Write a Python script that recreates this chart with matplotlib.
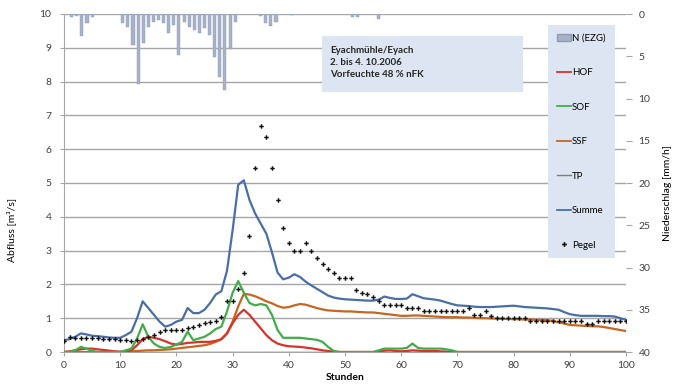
import matplotlib
matplotlib.use("Agg")
import matplotlib.pyplot as plt
from matplotlib.lines import Line2D
from matplotlib.patches import Patch, Rectangle

plt.rcParams['font.family'] = ['Lato', 'DejaVu Sans']

# ---------------- data ----------------
hours = list(range(0, 101))

summe = [0.35, 0.38, 0.45, 0.55, 0.52, 0.48, 0.47, 0.45, 0.43, 0.42,
         0.42, 0.50, 0.60, 1.00, 1.50, 1.30, 1.10, 0.90, 0.75, 0.80,
         0.90, 0.95, 1.30, 1.15, 1.15, 1.25, 1.45, 1.70, 1.80, 2.40,
         3.60, 4.95, 5.08, 4.50, 4.10, 3.80, 3.50, 2.95, 2.35, 2.15,
         2.20, 2.30, 2.22, 2.08, 1.97, 1.87, 1.77, 1.67, 1.61, 1.58,
         1.56, 1.55, 1.54, 1.53, 1.52, 1.52, 1.55, 1.64, 1.60, 1.57,
         1.57, 1.58, 1.71, 1.65, 1.59, 1.57, 1.55, 1.52, 1.47, 1.42,
         1.38, 1.37, 1.36, 1.34, 1.33, 1.33, 1.33, 1.34, 1.35, 1.36,
         1.37, 1.35, 1.33, 1.32, 1.31, 1.30, 1.29, 1.27, 1.25, 1.18,
         1.12, 1.09, 1.07, 1.07, 1.07, 1.07, 1.06, 1.06, 1.05, 1.00,
         0.95]

ssf = [0.00, 0.00, 0.00, 0.00, 0.00, 0.00, 0.00, 0.00, 0.00, 0.00,
       0.00, 0.01, 0.02, 0.03, 0.04, 0.05, 0.05, 0.06, 0.07, 0.08,
       0.10, 0.12, 0.14, 0.16, 0.18, 0.20, 0.24, 0.30, 0.38, 0.55,
       0.90, 1.35, 1.72, 1.70, 1.65, 1.58, 1.50, 1.44, 1.36, 1.31,
       1.33, 1.38, 1.42, 1.40, 1.35, 1.30, 1.26, 1.23, 1.22, 1.21,
       1.20, 1.20, 1.19, 1.18, 1.17, 1.17, 1.15, 1.13, 1.11, 1.09,
       1.07, 1.07, 1.08, 1.08, 1.07, 1.06, 1.05, 1.04, 1.03, 1.03,
       1.03, 1.02, 1.02, 1.01, 1.00, 1.00, 0.99, 0.99, 0.98, 0.98,
       0.97, 0.97, 0.96, 0.96, 0.95, 0.95, 0.94, 0.92, 0.88, 0.84,
       0.80, 0.79, 0.78, 0.77, 0.76, 0.76, 0.74, 0.71, 0.68, 0.65,
       0.62]

hof = [0.00, 0.02, 0.05, 0.08, 0.10, 0.10, 0.08, 0.06, 0.04, 0.02,
       0.01, 0.02, 0.05, 0.20, 0.38, 0.45, 0.42, 0.38, 0.32, 0.25,
       0.22, 0.24, 0.27, 0.28, 0.30, 0.30, 0.30, 0.33, 0.38, 0.55,
       0.85, 1.10, 1.25, 1.10, 0.90, 0.70, 0.50, 0.35, 0.25, 0.20,
       0.17, 0.16, 0.15, 0.13, 0.11, 0.08, 0.05, 0.03, 0.01, 0.00,
       0.00, 0.00, 0.00, 0.00, 0.00, 0.00, 0.02, 0.04, 0.05, 0.03,
       0.02, 0.03, 0.05, 0.04, 0.03, 0.03, 0.03, 0.02, 0.01, 0.00,
       0.00, 0.00, 0.00, 0.00, 0.00, 0.00, 0.00, 0.00, 0.00, 0.00,
       0.00, 0.00, 0.00, 0.00, 0.00, 0.00, 0.00, 0.00, 0.00, 0.00,
       0.00, 0.00, 0.00, 0.00, 0.00, 0.00, 0.00, 0.00, 0.00, 0.00,
       0.00]

sof = [0.00, 0.00, 0.05, 0.15, 0.10, 0.03, 0.00, 0.00, 0.00, 0.00,
       0.00, 0.05, 0.10, 0.40, 0.82, 0.45, 0.25, 0.15, 0.12, 0.15,
       0.22, 0.30, 0.60, 0.35, 0.40, 0.45, 0.55, 0.68, 0.75, 1.20,
       1.75, 2.10, 1.75, 1.45, 1.38, 1.42, 1.38, 1.10, 0.65, 0.42,
       0.42, 0.42, 0.42, 0.40, 0.38, 0.36, 0.30, 0.15, 0.03, 0.00,
       0.00, 0.00, 0.00, 0.00, 0.00, 0.00, 0.05, 0.10, 0.10, 0.10,
       0.10, 0.12, 0.25, 0.12, 0.10, 0.10, 0.10, 0.10, 0.08, 0.05,
       0.00, 0.00, 0.00, 0.00, 0.00, 0.00, 0.00, 0.00, 0.00, 0.00,
       0.00, 0.00, 0.00, 0.00, 0.00, 0.00, 0.00, 0.00, 0.00, 0.00,
       0.00, 0.00, 0.00, 0.00, 0.00, 0.00, 0.00, 0.00, 0.00, 0.00,
       0.00]

tp = [0.0] * 101

pegel = [0.33, 0.44, 0.40, 0.42, 0.40, 0.40, 0.40, 0.39, 0.38, 0.37,
         0.35, 0.35, 0.34, 0.36, 0.38, 0.45, 0.50, 0.58, 0.65, 0.66,
         0.66, 0.66, 0.70, 0.75, 0.80, 0.85, 0.90, 0.93, 1.05, 1.50,
         1.50, 1.85, 2.33, 3.42, 5.43, 6.69, 6.37, 5.43, 4.49, 3.67,
         3.22, 3.00, 3.00, 3.22, 3.00, 2.78, 2.60, 2.46, 2.33, 2.18,
         2.18, 2.18, 1.84, 1.74, 1.72, 1.62, 1.52, 1.39, 1.39, 1.39,
         1.39, 1.30, 1.30, 1.30, 1.20, 1.20, 1.20, 1.20, 1.20, 1.20,
         1.20, 1.20, 1.30, 1.10, 1.10, 1.20, 1.07, 1.00, 1.00, 1.00,
         1.00, 1.00, 1.00, 0.92, 0.92, 0.92, 0.92, 0.92, 0.92, 0.92,
         0.92, 0.92, 0.92, 0.83, 0.83, 0.92, 0.92, 0.92, 0.92, 0.92,
         0.92]

# precipitation (secondary category axis, 110 categories)
rain_idx = [1, 2, 3, 4, 5, 11, 12, 13, 14, 15, 16, 17, 18, 19, 20, 21, 22,
            23, 24, 25, 26, 27, 28, 29, 30, 31, 32, 33, 38, 39, 40, 41, 44,
            56, 57, 61]
rain = [0.3, 0.2, 2.6, 1.1, 0.3, 1.1, 1.5, 3.7, 8.3, 3.4, 1.5, 1.0, 0.7,
        1.1, 2.2, 1.3, 4.9, 0.9, 1.5, 1.9, 2.3, 1.7, 2.5, 5.1, 7.5, 9.0,
        4.2, 0.9, 0.2, 1.1, 1.4, 0.9, 0.1, 0.3, 0.3, 0.6]
n_rain_cats = 110

left_ticks = list(range(0, 11))
right_ticks = list(range(0, 45, 5))
x_ticks = list(range(0, 101, 10))

info_text = "Eyachmühle/Eyach\n2. bis 4. 10.2006\nVorfeuchte 48 % nFK"

# ---------------- figure ----------------
W, H = 673, 392
fig = plt.figure(figsize=(W / 100, H / 100), dpi=100)
pos = [64 / W, 1 - 352 / H, (626 - 64) / W, (352 - 14) / H]

tick_col = '#404040'
grid_col = '#a6a6a6'
fs = 7.5

ax = fig.add_axes(pos)
ax.set_xlim(0, 100)
ax.set_ylim(0, 10)
ax.set_yticks(left_ticks)
ax.set_xticks(x_ticks)
ax.grid(axis='y', color=grid_col, linewidth=1.0)
ax.set_axisbelow(True)
for s in ['top', 'right']:
    ax.spines[s].set_visible(False)
for s in ['left', 'bottom']:
    ax.spines[s].set_color(grid_col)
ax.tick_params(axis='both', labelsize=fs, colors=tick_col, length=3,
               color=grid_col)
ax.tick_params(axis='y', pad=6)

c_hof = '#d9322a'
c_sof = '#3fae49'
c_ssf = '#c8661f'
c_tp = '#7f7f7f'
c_sum = '#4a6ea8'

ax.plot(hours, tp, color=c_tp, lw=1.0, zorder=2)
ax.plot(hours, ssf, color=c_ssf, lw=1.6, zorder=3)
ax.plot(hours, hof, color=c_hof, lw=1.6, zorder=4)
ax.plot(hours, sof, color=c_sof, lw=1.6, zorder=5)
ax.plot(hours, summe, color=c_sum, lw=1.6, zorder=6)
ax.plot(hours, pegel, linestyle='none', marker='P', markersize=3.2,
        color='#111111', markeredgewidth=0, zorder=7)

ax.set_xlabel('Stunden', fontsize=fs, fontweight='bold', labelpad=2)
ax.set_ylabel('Abfluss [m³/s]', fontsize=fs, labelpad=8)
ax.yaxis.set_label_coords(-0.085, 0.36)

# rainfall axes (inverted, right side)
axr = fig.add_axes(pos)
axr.patch.set_visible(False)
axr.set_xlim(-0.5, n_rain_cats - 0.5)
axr.set_ylim(40, 0)
axr.bar(rain_idx, rain, width=0.6, color='#a7b2c9', edgecolor='#8e9ab6',
        linewidth=0.3, zorder=2)
axr.xaxis.set_visible(False)
axr.yaxis.tick_right()
axr.yaxis.set_label_position('right')
axr.set_yticks(right_ticks)
for s in axr.spines.values():
    s.set_visible(False)
axr.tick_params(axis='y', labelsize=fs, colors=tick_col, length=4,
                color=grid_col, pad=5)
axr.set_ylabel('Niederschlag [mm/h]', fontsize=fs, labelpad=6)
axr.yaxis.set_label_coords(1.066, 0.47)

# info box
axr.add_patch(Rectangle((0.459, 0.769), 0.358, 0.166,
                        transform=axr.transAxes, facecolor='#dce5f1',
                        edgecolor='none', zorder=5))
axr.text(0.473, 0.905, info_text, transform=axr.transAxes, fontsize=7,
         fontweight='bold', va='top', ha='left', linespacing=1.45,
         color='#262626', zorder=6)

# legend
handles = [Patch(facecolor='#a7b2c9', edgecolor='#8e9ab6'),
           Line2D([], [], color=c_hof, lw=1.3),
           Line2D([], [], color=c_sof, lw=1.3),
           Line2D([], [], color=c_ssf, lw=1.3),
           Line2D([], [], color=c_tp, lw=1.0),
           Line2D([], [], color=c_sum, lw=1.3),
           Line2D([], [], color='#111111', marker='P', markersize=3.5,
                  markeredgewidth=0, linestyle='none')]
labels = ['N (EZG)', 'HOF', 'SOF', 'SSF', 'TP', 'Summe', 'Pegel']
leg = axr.legend(handles, labels, loc='upper left',
                 bbox_to_anchor=(0.861, 0.967), fontsize=7,
                 frameon=True, fancybox=False, labelspacing=2.62,
                 handlelength=1.5, handletextpad=0.1, borderpad=0.9,
                 borderaxespad=0)
leg.get_frame().set_facecolor('#dce5f1')
leg.get_frame().set_edgecolor('none')
leg.get_frame().set_alpha(1.0)
leg.set_zorder(10)

fig.savefig('out.png', dpi=100)
